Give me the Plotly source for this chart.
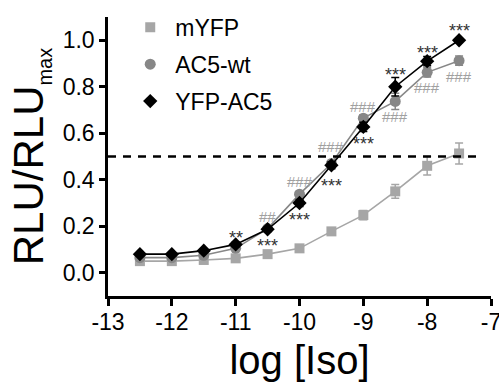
import plotly.graph_objects as go

# ---- data ----
log_iso = [-12.5, -12, -11.5, -11, -10.5, -10, -9.5, -9, -8.5, -8, -7.5]
myfp = [0.050, 0.050, 0.055, 0.062, 0.080, 0.105, 0.178, 0.248, 0.350, 0.460, 0.513]
myfp_err = [0.005, 0.005, 0.005, 0.008, 0.008, 0.010, 0.010, 0.020, 0.030, 0.040, 0.045]
ac5wt = [0.065, 0.065, 0.075, 0.105, 0.190, 0.338, 0.470, 0.665, 0.737, 0.862, 0.912]
ac5wt_err = [0.005, 0.005, 0.005, 0.010, 0.010, 0.010, 0.010, 0.015, 0.035, 0.020, 0.020]
yfpac5 = [0.080, 0.080, 0.095, 0.122, 0.187, 0.300, 0.462, 0.627, 0.800, 0.910, 1.000]
yfpac5_err = [0.005, 0.005, 0.008, 0.010, 0.010, 0.015, 0.015, 0.020, 0.040, 0.020, 0.010]

star_x = [-7.5, -8, -8.5, -9, -9.5, -10, -10.5, -11]
star_y = [1.06, 0.965, 0.874, 0.574, 0.396, 0.248, 0.136, 0.171]
star_txt = ["***", "***", "***", "***", "***", "***", "***", "**"]
hash_x = [-7.5, -8, -8.5, -9, -9.5, -10, -10.5]
hash_y = [0.843, 0.795, 0.670, 0.713, 0.545, 0.393, 0.240]
hash_txt = ["###", "###", "###", "###", "###", "###", "##"]

x_ticks = [-13, -12, -11, -10, -9, -8, -7]
x_ticktext = ["-13", "-12", "-11", "-10", "-9", "-8", "-7"]
y_ticks = [0.0, 0.2, 0.4, 0.6, 0.8, 1.0]
half_max = 0.5

FONT = "Liberation Sans, Arial, sans-serif"
C_MYFP = "#a6a6a6"
C_AC5 = "#878787"
C_YFP = "#000000"

series = [
    ("mYFP", myfp, myfp_err, C_MYFP, "square", 10),
    ("AC5-wt", ac5wt, ac5wt_err, C_AC5, "circle", 11),
    ("YFP-AC5", yfpac5, yfpac5_err, C_YFP, "diamond", 11),
]

fig = go.Figure()
for name, ys, es, col, sym, sz in series:
    fig.add_trace(go.Scatter(
        x=log_iso, y=ys, mode="lines+markers", showlegend=False,
        line=dict(color=col, width=1.6),
        marker=dict(symbol=sym, size=sz, color=col),
        error_y=dict(type="data", array=es, color=col, thickness=1.5, width=4),
    ))
for i, (name, ys, es, col, sym, sz) in enumerate(series):
    fig.add_trace(go.Scatter(
        x=[None], y=[None], mode="markers", name=name, legendgroup=str(i),
        marker=dict(symbol=sym, size=sz, color=col),
    ))

fig.add_shape(type="line", x0=-13, x1=-7.2, y0=half_max, y1=half_max,
              xref="x", yref="y", line=dict(color="black", width=2.5, dash="8px,7px"))

for x, y, t in zip(star_x, star_y, star_txt):
    fig.add_annotation(x=x, y=y, text=t, showarrow=False, yshift=-5,
                       font=dict(family=FONT, size=18, color="#333333"))
for x, y, t in zip(hash_x, hash_y, hash_txt):
    fig.add_annotation(x=x, y=y, text=t, showarrow=False,
                       font=dict(family=FONT, size=15, color="#a0a0a0"))

fig.update_layout(
    width=499, height=387,
    margin=dict(l=108, r=8, t=17, b=91, autoexpand=False),
    paper_bgcolor="white", plot_bgcolor="white",
    font=dict(family=FONT, color="black"),
    legend=dict(x=0.045, y=1.04, xanchor="left", yanchor="top",
                font=dict(family=FONT, size=23), tracegroupgap=4,
                itemwidth=40,
                traceorder="grouped", bgcolor="rgba(0,0,0,0)"),
)
fig.update_xaxes(range=[-13, -7], tickvals=x_ticks, ticktext=x_ticktext,
                 showline=True, linecolor="black", linewidth=2.5,
                 ticks="outside", ticklen=7, tickwidth=2.5, tickcolor="black",
                 showgrid=False, zeroline=False, ticklabeloverflow="allow",
                 automargin=False, ticklabelstandoff=-3,
                 tickfont=dict(family=FONT, size=23),
                 title=dict(text="log [Iso]", font=dict(family=FONT, size=40), standoff=12))
fig.update_yaxes(range=[-0.1, 1.1], tickvals=y_ticks, tickformat=".1f",
                 showline=True, linecolor="black", linewidth=2.5,
                 ticks="outside", ticklen=6, tickwidth=2.5, tickcolor="black",
                 showgrid=False, zeroline=False, automargin=False,
                 tickfont=dict(family=FONT, size=23),
                 title=dict(text="RLU/RLU<sub><span style=\"font-size:20px\">max</span></sub>",
                            font=dict(family=FONT, size=42), standoff=6))

fig.write_html("out.html")
